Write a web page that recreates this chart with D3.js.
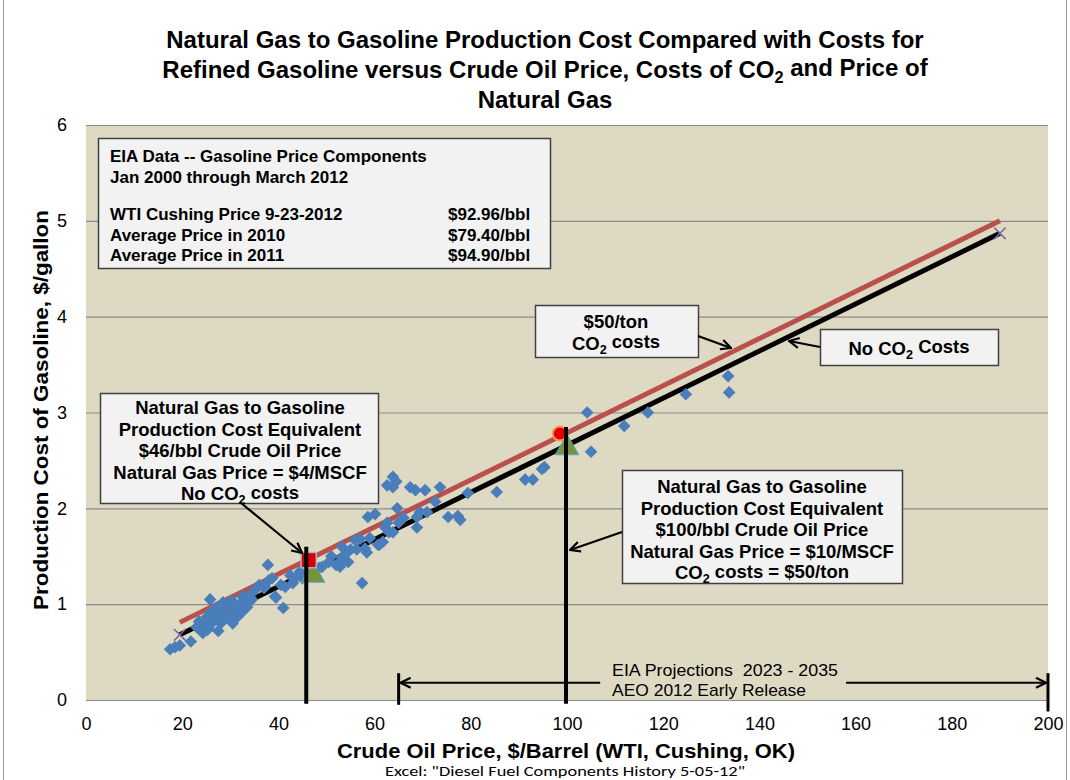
<!DOCTYPE html>
<html>
<head>
<meta charset="utf-8">
<script src="https://cdn.jsdelivr.net/npm/d3@7"></script>
<style>
  html, body { margin: 0; padding: 0; background: #ffffff; }
  svg { display: block; font-family: "Liberation Sans", Arial, sans-serif; }
</style>
</head>
<body>
<svg id="chart" width="1070" height="780"></svg>
<script>
// ---- data -------------------------------------------------------------
// Monthly EIA observations: crude oil price ($/bbl) vs gasoline production cost ($/gal)
const crudePrice = [
  17.5, 18.5, 19.5, 21.8, 23.0, 23.5, 24.0, 24.3, 24.5, 25.0, 25.2, 25.5, 25.8, 26.0, 26.5,
  27.0, 27.5, 27.5, 28.0, 28.5, 28.5, 29.0, 29.5, 30.0, 30.3, 30.5, 31.0, 31.5, 32.0, 32.5,
  32.5, 33.0, 33.5, 34.0, 34.5, 35.0, 36.0, 37.0, 37.2, 37.8, 38.0, 38.7, 39.3, 39.5, 40.5,
  41.0, 41.4, 42.5, 43.0, 43.5, 44.5, 45.0,
  47.5, 48.5, 49.1, 50.5, 51.0, 52.0, 52.8, 53.2, 53.2, 53.4, 54.3, 54.5, 55.0, 55.9, 56.3,
  57.0, 57.4, 58.0, 58.4, 58.6, 59.0, 60.1, 60.7, 61.0, 61.7, 62.2, 62.6, 62.6, 63.0, 63.8,
  63.8, 63.8, 64.5, 64.7, 65.0, 66.0, 67.4, 68.5, 68.8, 68.8, 69.4, 70.5, 70.9, 72.6, 73.6,
  75.3, 77.3, 77.8, 79.4, 85.4, 91.3, 92.9, 94.8, 95.3,
  104.2, 105.0, 111.9, 116.8, 124.7, 133.5, 133.7
];
const productionCost = [
  0.53, 0.55, 0.57, 0.61, 0.76, 0.82, 0.72, 0.70, 0.80, 0.86, 0.73, 0.75, 1.05, 0.92, 0.82,
  0.96, 0.72, 0.88, 0.80, 1.02, 0.93, 0.85, 0.98, 0.90, 1.04, 0.80, 0.95, 0.87, 1.00, 1.08,
  0.92, 1.02, 0.97, 1.10, 1.05, 1.14, 1.20, 1.17, 1.18, 1.41, 1.25, 1.27, 1.08, 1.07, 1.20,
  0.96, 1.18, 1.30, 1.22, 1.27, 1.34, 1.27,
  1.30, 1.38, 1.39, 1.44, 1.50, 1.41, 1.39, 1.60, 1.49, 1.46, 1.54, 1.44, 1.57, 1.67, 1.57,
  1.68, 1.22, 1.58, 1.54, 1.91, 1.69, 1.94, 1.62, 1.62, 1.65, 1.80, 1.85, 2.24, 1.75, 2.33,
  2.22, 1.75, 2.28, 2.00, 1.85, 1.90, 2.22, 2.19, 1.91, 1.80, 1.96, 2.19, 1.96, 2.07, 2.22,
  1.91, 1.92, 1.88, 2.16, 2.17, 2.30, 2.30, 2.41, 2.43,
  3.00, 2.59, 2.86, 3.00, 3.19, 3.38, 3.21
];

// Cost lines (end points over crude price)
const lineCrude = [19.5, 190];
const costNoCO2 = [0.68, 4.87];
const costWithCO2 = [0.81, 5.00];

// Natural-gas-to-gasoline equivalence points
const gtlCrude = [46, 100];             // $/bbl equivalent
const gtlCostNoCO2 = [1.30, 2.63];      // green triangles
const gtlCostCO2 = [1.46, 2.78];        // red square / red circle

// EIA projection window (crude price range)
const projectionRange = [65, 200];

const xTicks = [0, 20, 40, 60, 80, 100, 120, 140, 160, 180, 200];
const yTicks = [0, 1, 2, 3, 4, 5, 6];

// ---- setup ------------------------------------------------------------
const svg = d3.select("#chart");
const plot = { left: 86, right: 1048, top: 125, bottom: 700 };
const x = d3.scaleLinear().domain([0, 200]).range([plot.left, plot.right]);
const y = d3.scaleLinear().domain([0, 6]).range([plot.bottom, plot.top]);

// text with CO₂ rendered as a true subscript
function richText(sel, str) {
  const parts = str.split("₂");
  let lowered = false;
  parts.forEach((p, i) => {
    if (p.length) {
      const t = sel.append("tspan").text(p);
      if (lowered) { t.attr("dy", "-0.32em"); lowered = false; }
    }
    if (i < parts.length - 1) {
      sel.append("tspan").attr("font-size", "68%").attr("dy", "0.32em").text("2");
      lowered = true;
    }
  });
  return sel;
}

const defs = svg.append("defs");
defs.append("marker")
  .attr("id", "arrowOpen")
  .attr("viewBox", "0 0 12 12")
  .attr("refX", 11).attr("refY", 6)
  .attr("markerWidth", 12).attr("markerHeight", 12)
  .attr("markerUnits", "userSpaceOnUse")
  .attr("orient", "auto-start-reverse")
  .append("path")
  .attr("d", "M1,1 L11,6 L1,11")
  .attr("fill", "none").attr("stroke", "#000").attr("stroke-width", 2.2);

// outer chart frame
svg.append("line").attr("x1", 3.5).attr("x2", 3.5).attr("y1", 0).attr("y2", 780)
  .attr("stroke", "#9a9a9a");
svg.append("line").attr("x1", 1066.5).attr("x2", 1066.5).attr("y1", 0).attr("y2", 780)
  .attr("stroke", "#9a9a9a");

// ---- title ------------------------------------------------------------
const titleLines = [
  "Natural Gas to Gasoline Production Cost Compared with Costs for",
  "Refined Gasoline versus Crude Oil Price, Costs of CO₂ and Price of",
  "Natural Gas"
];
titleLines.forEach((t, i) => {
  richText(svg.append("text")
    .attr("x", 545).attr("y", 48 + i * 30)
    .attr("text-anchor", "middle")
    .attr("font-size", 24).attr("font-weight", "bold")
    .attr("fill", "#000"), t);
});

// ---- plot area --------------------------------------------------------
svg.append("rect")
  .attr("x", plot.left).attr("y", plot.top)
  .attr("width", plot.right - plot.left).attr("height", plot.bottom - plot.top)
  .attr("fill", "#DDD9C3");

svg.append("g").selectAll("line").data(yTicks).join("line")
  .attr("x1", plot.left).attr("x2", plot.right)
  .attr("y1", d => y(d) + 0.5).attr("y2", d => y(d) + 0.5)
  .attr("stroke", "#8c8c8c").attr("stroke-width", 1.2);

// axes
const xAxis = svg.append("g")
  .attr("transform", `translate(0,${plot.bottom})`)
  .call(d3.axisBottom(x).tickValues(xTicks).tickSize(0).tickPadding(17).tickFormat(d3.format("d")));
const yAxis = svg.append("g")
  .attr("transform", `translate(${plot.left},0)`)
  .call(d3.axisLeft(y).tickValues(yTicks).tickSize(0).tickPadding(19).tickFormat(d3.format("d")));
[xAxis, yAxis].forEach(a => {
  a.select(".domain").remove();
  a.selectAll("text")
    .attr("font-size", 18)
    .attr("font-family", "'Liberation Sans Narrow', 'Liberation Sans', Arial, sans-serif")
    .attr("fill", "#000");
});

// axis titles
svg.append("text")
  .attr("x", 566).attr("y", 758)
  .attr("text-anchor", "middle")
  .attr("font-size", 21).attr("font-weight", "bold")
  .attr("textLength", 458).attr("lengthAdjust", "spacingAndGlyphs")
  .text("Crude Oil Price, $/Barrel (WTI, Cushing, OK)");

svg.append("text")
  .attr("transform", "translate(48,410) rotate(-90)")
  .attr("text-anchor", "middle")
  .attr("font-size", 20).attr("font-weight", "bold")
  .attr("textLength", 400).attr("lengthAdjust", "spacingAndGlyphs")
  .text("Production Cost of Gasoline, $/gallon");

svg.append("text")
  .attr("x", 565).attr("y", 776)
  .attr("text-anchor", "middle")
  .attr("font-size", 14)
  .attr("font-family", "Carlito, 'Liberation Sans Narrow', 'Liberation Sans', sans-serif")
  .attr("textLength", 360).attr("lengthAdjust", "spacingAndGlyphs")
  .text("Excel: \"Diesel Fuel Components History 5-05-12\"");

// ---- cost lines -------------------------------------------------------
const lineGen = d3.line().x(d => x(d[0])).y(d => y(d[1]));
svg.append("path")
  .attr("d", lineGen(d3.zip(lineCrude, costWithCO2)))
  .attr("stroke", "#B9504B").attr("stroke-width", 5).attr("fill", "none");
svg.append("path")
  .attr("d", lineGen(d3.zip(lineCrude, costNoCO2)))
  .attr("stroke", "#000").attr("stroke-width", 5).attr("fill", "none");

// end markers of the no-CO₂ line
svg.append("g").selectAll("path").data(d3.zip(lineCrude, costNoCO2)).join("path")
  .attr("d", d3.symbol(d3.symbolX, 90))
  .attr("transform", d => `translate(${x(d[0])},${y(d[1])})`)
  .attr("fill", "none").attr("stroke", "#7B65A6").attr("stroke-width", 1.5);

// ---- scatter ----------------------------------------------------------
svg.append("g").selectAll("path").data(d3.zip(crudePrice, productionCost)).join("path")
  .attr("d", d3.symbol(d3.symbolSquare, 80))
  .attr("transform", d => `translate(${x(d[0])},${y(d[1])}) rotate(45)`)
  .attr("fill", "#4A7EBB");

// ---- equivalence markers ---------------------------------------------
// green triangles (no CO₂ cost)
svg.append("g").selectAll("path").data(d3.zip(gtlCrude, gtlCostNoCO2)).join("path")
  .attr("d", d3.symbol(d3.symbolTriangle, 240))
  .attr("transform", (d, i) => `translate(${x(d[0] + (i === 0 ? 1.2 : 0))},${y(d[1])})`)
  .attr("fill", "#77933C").attr("stroke", "#4BACC6").attr("stroke-width", 1);

// red square ($4 gas) and red circle ($10 gas + CO₂)
svg.append("path")
  .attr("d", d3.symbol(d3.symbolSquare, 230))
  .attr("transform", `translate(${x(gtlCrude[0] + 0.3)},${y(gtlCostCO2[0])})`)
  .attr("fill", "#D90000").attr("stroke", "#A5B4D3").attr("stroke-width", 1.5);
svg.append("circle")
  .attr("cx", x(gtlCrude[1] - 1.5)).attr("cy", y(gtlCostCO2[1]))
  .attr("r", 7)
  .attr("fill", "#E00000").attr("stroke", "#F79646").attr("stroke-width", 2);

// vertical drop lines at the equivalent crude prices
const dropTop = [1.6, 2.85];
svg.append("g").selectAll("line").data(d3.zip(gtlCrude, dropTop)).join("line")
  .attr("x1", d => x(d[0]) - 1).attr("x2", d => x(d[0]) - 1)
  .attr("y1", d => y(d[1])).attr("y2", y(-0.04))
  .attr("stroke", "#000").attr("stroke-width", 4);

// ---- projection range bracket ----------------------------------------
svg.append("g").selectAll("line").data(projectionRange).join("line")
  .attr("x1", d => x(d)).attr("x2", d => x(d))
  .attr("y1", y(0.28)).attr("y2", (d, i) => y(i === 0 ? -0.05 : -0.12))
  .attr("stroke", "#000").attr("stroke-width", 3);
const bracketY = y(0.18);
svg.append("line")
  .attr("x1", x(106.9)).attr("x2", x(projectionRange[0]) + 2)
  .attr("y1", bracketY).attr("y2", bracketY)
  .attr("stroke", "#000").attr("stroke-width", 2)
  .attr("marker-end", "url(#arrowOpen)");
svg.append("line")
  .attr("x1", x(158)).attr("x2", x(projectionRange[1]) - 2)
  .attr("y1", bracketY).attr("y2", bracketY)
  .attr("stroke", "#000").attr("stroke-width", 2)
  .attr("marker-end", "url(#arrowOpen)");
["EIA Projections  2023 - 2035", "AEO 2012 Early Release"].forEach((t, i) => {
  svg.append("text")
    .attr("x", 612).attr("y", 676 + i * 20)
    .attr("font-size", 17)
    .attr("textLength", i === 0 ? 226 : 194).attr("lengthAdjust", "spacingAndGlyphs")
    .attr("fill", "#000")
    .style("white-space", "pre")
    .text(t);
});

// ---- annotation boxes -------------------------------------------------
function box(x0, y0, w, h) {
  svg.append("rect")
    .attr("x", x0 + 0.5).attr("y", y0 + 0.5).attr("width", w).attr("height", h)
    .attr("fill", "#F2F2F2").attr("stroke", "#404040").attr("stroke-width", 1.5);
}
function arrow(x1, y1, x2, y2) {
  svg.append("line")
    .attr("x1", x1).attr("y1", y1).attr("x2", x2).attr("y2", y2)
    .attr("stroke", "#000").attr("stroke-width", 2.2)
    .attr("marker-end", "url(#arrowOpen)");
}
function centeredLines(cx, y0, step, size, lines) {
  lines.forEach((t, i) => {
    richText(svg.append("text")
      .attr("x", cx).attr("y", y0 + i * step)
      .attr("text-anchor", "middle")
      .attr("font-size", size).attr("font-weight", "bold")
      .attr("fill", "#000"), t);
  });
}

// EIA summary box
box(98, 138, 452, 130);
const infoLeft = ["EIA Data -- Gasoline Price Components", "Jan 2000 through March 2012", "",
  "WTI Cushing Price 9-23-2012", "Average Price in 2010", "Average Price in 2011"];
const infoRight = ["", "", "", "$92.96/bbl", "$79.40/bbl", "$94.90/bbl"];
const infoY = [162, 183, 0, 220, 241, 261];
infoLeft.forEach((t, i) => {
  if (!t) return;
  svg.append("text").attr("x", 110).attr("y", infoY[i])
    .attr("font-size", 17).attr("font-weight", "bold").text(t);
});
infoRight.forEach((t, i) => {
  if (!t) return;
  svg.append("text").attr("x", 448).attr("y", infoY[i])
    .attr("font-size", 17).attr("font-weight", "bold").text(t);
});

// $50/ton CO₂ label
box(535, 305, 163, 52);
centeredLines(616, 328, 22, 18.5, ["$50/ton", "CO₂ costs"]);
arrow(698, 336, 731, 348);

// No CO₂ costs label
box(820, 329, 178, 36);
centeredLines(909, 355, 0, 18.5, ["No CO₂ Costs"]);
arrow(820, 347, 789, 341);

// $46/bbl equivalence box
box(100, 393, 278, 110);
centeredLines(240, 414, 21.6, 18.5, [
  "Natural Gas to Gasoline",
  "Production Cost Equivalent",
  "$46/bbl Crude Oil Price",
  "Natural Gas Price = $4/MSCF",
  "No CO₂ costs"
]);
arrow(241, 503, 302, 553);

// $100/bbl equivalence box
box(622, 470, 280, 113);
centeredLines(762, 493, 21.6, 18.5, [
  "Natural Gas to Gasoline",
  "Production Cost Equivalent",
  "$100/bbl Crude Oil Price",
  "Natural Gas Price = $10/MSCF",
  "CO₂ costs = $50/ton"
]);
arrow(622, 532, 570, 550);
</script>
</body>
</html>
